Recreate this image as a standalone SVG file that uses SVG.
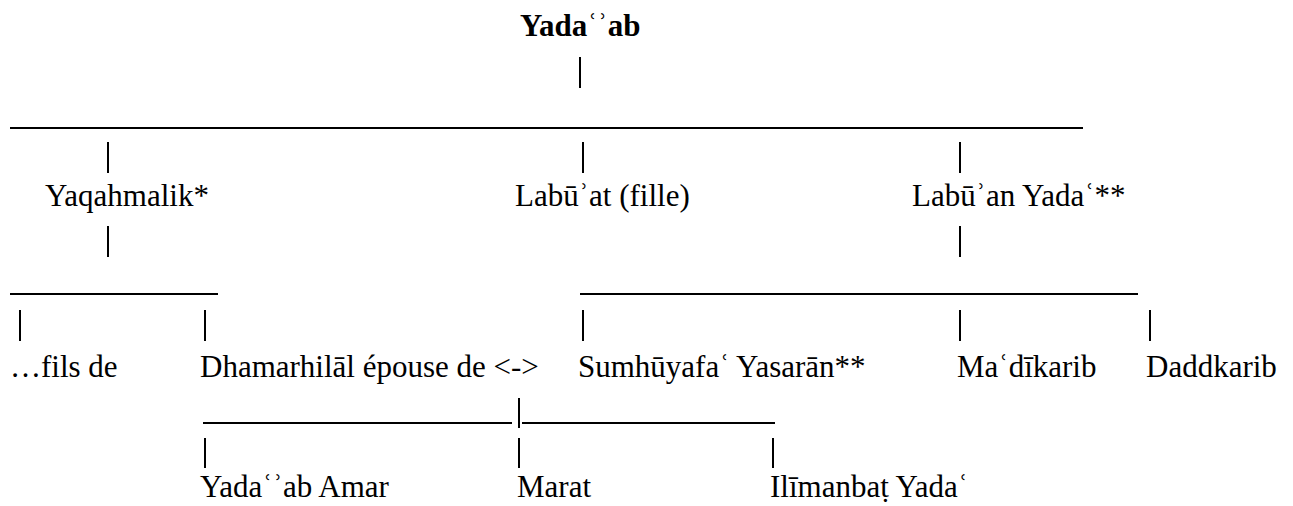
<svg xmlns="http://www.w3.org/2000/svg" width="1293" height="506" viewBox="0 0 1293 506">
<style>
text{font-family:"Liberation Serif","Times New Roman",serif;font-size:31px;fill:#000}
.b{font-weight:bold}
.c line{stroke:#000}
.p{stroke-width:2}
.u{stroke-width:1.8}
</style>
<rect width="1293" height="506" fill="#fff"/>
<g class="c" id="connectors">
<line class="p" x1="580" y1="57" x2="580" y2="88"/>
<line class="u" x1="10" y1="128" x2="1083" y2="128"/>
<line class="p" x1="108" y1="142" x2="108" y2="173"/>
<line class="p" x1="583" y1="142" x2="583" y2="173"/>
<line class="p" x1="960" y1="142" x2="960" y2="173"/>
<line class="p" x1="108" y1="226" x2="108" y2="257"/>
<line class="p" x1="960" y1="226" x2="960" y2="257"/>
<line class="u" x1="10" y1="294" x2="218" y2="294"/>
<line class="u" x1="580" y1="294" x2="1138" y2="294"/>
<line class="p" x1="20" y1="310" x2="20" y2="341"/>
<line class="p" x1="205" y1="310" x2="205" y2="341"/>
<line class="p" x1="583" y1="310" x2="583" y2="341"/>
<line class="p" x1="960" y1="310" x2="960" y2="341"/>
<line class="p" x1="1150" y1="310" x2="1150" y2="341"/>
<line class="u" x1="203" y1="423" x2="512" y2="423"/>
<line class="p" x1="519" y1="398" x2="519" y2="428"/>
<line class="u" x1="522" y1="423" x2="775" y2="423"/>
<line class="p" x1="205" y1="438" x2="205" y2="468"/>
<line class="p" x1="519" y1="438" x2="519" y2="468"/>
<line class="p" x1="773" y1="438" x2="773" y2="468"/>
</g>
<g id="yadaab"><text class="b" x="520" y="36">Yadaʿʾab</text></g>
<g id="yaqahmalik"><text x="45" y="206">Yaqahmalik*</text></g>
<g id="labuat"><text x="515" y="206">Labūʾat (fille)</text></g>
<g id="labuan"><text x="912" y="206">Labūʾan Yadaʿ**</text></g>
<g id="fils"><text x="10" y="377">…fils de</text></g>
<g id="dhamarhilal"><text x="200" y="377">Dhamarhilāl épouse de &lt;-&gt;</text></g>
<g id="sumhuyafa"><text x="578" y="377">Sumhūyafaʿ Yasarān**</text></g>
<g id="madikarib"><text x="957" y="377">Maʿdīkarib</text></g>
<g id="daddkarib"><text x="1146" y="377">Daddkarib</text></g>
<g id="yadaab-amar"><text x="200" y="497">Yadaʿʾab Amar</text></g>
<g id="marat"><text x="517" y="497">Marat</text></g>
<g id="ilimanbat"><text x="770" y="497">Ilīmanbaṭ Yadaʿ</text></g>
</svg>
